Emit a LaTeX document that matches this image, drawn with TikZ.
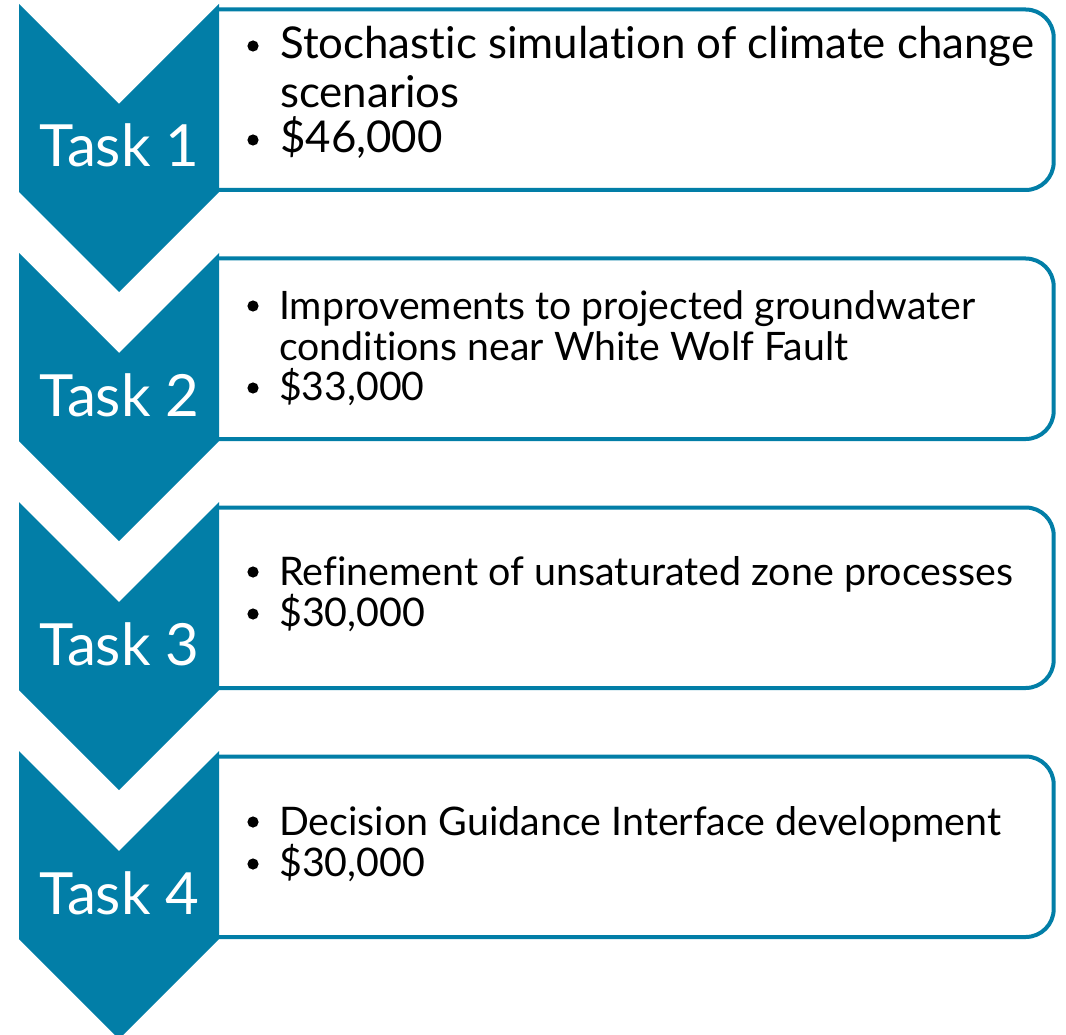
\documentclass[tikz,border=0pt]{standalone}
\usepackage{fontspec}
\setmainfont{Lato}[Ligatures=NoCommon]
\definecolor{teal1}{RGB}{2,126,167}
\newlength\fitlen
\newcommand\taskfont{\fontsize{\fsT}{\fsT}\selectfont}
\newcommand\fitcalc[3]{% #1 macro name, #2 target width, #3 sample text
  \settowidth\fitlen{\fontsize{10}{12}\selectfont #3}%
  \pgfmathsetmacro#1{10*#2/\fitlen}}
\begin{document}
\fitcalc{\fsT}{160}{Task 2}%
\fitcalc{\fsA}{754}{Stochastic simulation of climate change}%
\fitcalc{\fsB}{696}{Improvements to projected groundwater}%
\fitcalc{\fsC}{734}{Refinement of unsaturated zone processes}%
\fitcalc{\fsD}{722}{Decision Guidance Interface development}%
\begin{tikzpicture}[x=1pt,y=1pt,
  chev/.style={fill=teal1, draw=none},
  boxst/.style={fill=white, draw=teal1, line width=4pt},
  tasklbl/.style={text=white, anchor=base west, inner sep=0pt, font=\taskfont},
  item/.style={anchor=base west, inner sep=0pt, text=black},
  bulfill/.style={fill=black}]
\useasboundingbox (0,0) rectangle (1066,-1035);
\clip (0,0) rectangle (1066,-1035);
% boxes and chevrons
\foreach \k in {0,1,2,3}{
  \pgfmathsetmacro\T{9.5+249*\k}
  \pgfmathsetmacro\B{190+249*\k}
  \pgfmathsetmacro\Bq{\B-28}
  \pgfmathsetmacro\d{249*\k}
  \path[boxst] (219,-\T) -- (1025.7,-\T) arc[start angle=90,end angle=0,radius=28pt]
     -- (1053.7,-\Bq) arc[start angle=0,end angle=-90,radius=28pt] -- (219,-\B);
  \fill[chev] (19,-4-\d) -- (119,-104-\d) -- (219,-4-\d) -- (219,-192-\d)
     -- (119,-292-\d) -- (19,-192-\d) -- cycle;
}
% task labels
\node[tasklbl] (task1) at (39,-167) {Task 1};
\node[tasklbl] (task2) at (39,-416) {Task 2};
\node[tasklbl] (task3) at (39,-665) {Task 3};
\node[tasklbl] (task4) at (39,-914) {Task 4};
% bullet positions
\coordinate (b1a) at (253,-46);
\coordinate (b1b) at (253,-140);
\coordinate (b2a) at (253,-306);
\coordinate (b2b) at (253,-388);
\coordinate (b3a) at (253,-572);
\coordinate (b3b) at (253,-614);
\coordinate (b4a) at (253,-822);
\coordinate (b4b) at (253,-864);
\foreach \b in {b1a,b1b,b2a,b2b,b3a,b3b,b4a,b4b}{
  \fill[bulfill] (\b) circle[radius=5.6pt];
}
% box 1
\node[item, font=\fontsize{\fsA}{\fsA}\selectfont] (t1a) at (280,-59) {Stochastic simulation of climate change};
\node[item, font=\fontsize{\fsA}{\fsA}\selectfont] (t1b) at (280,-108) {scenarios};
\node[item, font=\fontsize{\fsA}{\fsA}\selectfont] (t1c) at (280,-153) {\$46,000};
% box 2
\node[item, font=\fontsize{\fsB}{\fsB}\selectfont] (t2a) at (279,-319) {Improvements to projected groundwater};
\node[item, font=\fontsize{\fsB}{\fsB}\selectfont] (t2b) at (279,-360) {conditions near White Wolf Fault};
\node[item, font=\fontsize{\fsB}{\fsB}\selectfont] (t2c) at (279,-400) {\$33,000};
% box 3
\node[item, font=\fontsize{\fsC}{\fsC}\selectfont] (t3a) at (279,-585) {Refinement of unsaturated zone processes};
\node[item, font=\fontsize{\fsC}{\fsC}\selectfont] (t3b) at (279,-626) {\$30,000};
% box 4
\node[item, font=\fontsize{\fsD}{\fsD}\selectfont] (t4a) at (279,-835) {Decision Guidance Interface development};
\node[item, font=\fontsize{\fsD}{\fsD}\selectfont] (t4b) at (279,-876) {\$30,000};
\end{tikzpicture}
\end{document}
